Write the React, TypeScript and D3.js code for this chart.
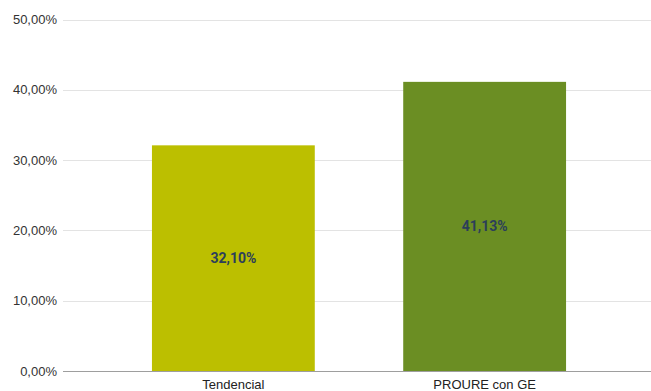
import React from "react";
import * as d3 from "d3";

const categories = ["Tendencial", "PROURE con GE"];
const values = [32.1, 41.13];
const yTicks = [0, 10, 20, 30, 40, 50];
const colors = ["#bcbf00", "#6b8e23"];

const W = 651;
const H = 391;

export default function App() {
  const y = d3.scaleLinear().domain([0, 50]).range([371, 19.5]);
  const x = d3
    .scaleBand<string>()
    .domain(categories)
    .range([63, 655])
    .paddingInner(0.352)
    .paddingOuter(0.354);
  const fmt = (v: number) => v.toFixed(2).replace(".", ",") + "%";
  return (
    <svg
      width={W}
      height={H}
      style={{ position: "absolute", left: 0, top: 0, background: "#fff" }}
      fontFamily="'Liberation Sans', Arial, sans-serif"
    >
      {yTicks.map((t) => (
        <g key={t}>
          <line
            x1={63}
            x2={W}
            y1={Math.round(y(t)) + 0.5}
            y2={Math.round(y(t)) + 0.5}
            stroke={t === 0 ? "#9e9e9e" : "#e3e3e3"}
            strokeWidth={1}
          />
          <text
            x={57}
            y={y(t)}
            dy="0.35em"
            textAnchor="end"
            fontSize={13}
            fill="#333"
          >
            {fmt(t)}
          </text>
        </g>
      ))}
      {categories.map((c, i) => {
        const x0 = x(c)!;
        const bw = x.bandwidth();
        const top = y(values[i]);
        return (
          <g key={c}>
            <rect
              x={x0}
              y={top}
              width={bw}
              height={y(0) - top}
              fill={colors[i]}
            />
            <text
              x={x0 + bw / 2}
              y={(top + y(0)) / 2}
              dy="0.35em"
              textAnchor="middle"
              fontSize={14}
              fontWeight="bold"
              fontFamily="Roboto, sans-serif"
              fill="#2c3e5a"
            >
              {fmt(values[i])}
            </text>
            <text
              x={x0 + bw / 2}
              y={389}
              textAnchor="middle"
              fontSize={13}
              fill="#222"
            >
              {c}
            </text>
          </g>
        );
      })}
    </svg>
  );
}
